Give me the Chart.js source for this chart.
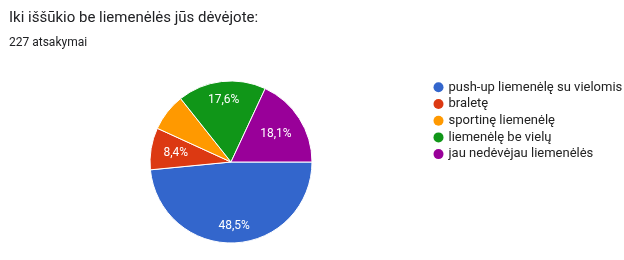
<!DOCTYPE html>
<html>
<head>
<meta charset="utf-8">
<script src="https://cdn.jsdelivr.net/npm/chart.js@4"></script>
<style>
  html, body { margin: 0; padding: 0; background: #fff; }
  #wrap { position: relative; width: 624px; height: 260px; overflow: hidden; }
  #title { position: absolute; left: 9px; top: 8px; font: 15px Roboto, sans-serif; color: #202124; white-space: nowrap; }
  #sub { position: absolute; left: 9px; top: 35px; font: 12px Roboto, sans-serif; color: #202124; white-space: nowrap; }
  canvas { position: absolute; left: 0; top: 0; }
</style>
</head>
<body>
<div id="wrap">
  <canvas id="pieChart" width="624" height="260"></canvas>
  <div id="title">Iki iššūkio be liemenėlės jūs dėvėjote:</div>
  <div id="sub">227 atsakymai</div>
</div>
<script>
// Atsakymai (227 iš viso)
const categories = ['push-up liemenėlę su vielomis', 'braletę', 'sportinę liemenėlę', 'liemenėlę be vielų', 'jau nedėvėjau liemenėlės'];
const counts = [110, 19, 17, 40, 41];
const colors = ['#3366cc', '#dc3912', '#ff9900', '#109618', '#990099'];

const total = counts.reduce((a, b) => a + b, 0);

// procentų užrašai ant griežinių + legenda dešinėje
const pieExtras = {
    id: 'pieExtras',
    afterDraw(chart) {
        const ctx = chart.ctx;
        const arcs = chart.getDatasetMeta(0).data;
        ctx.save();
        ctx.font = '12px Roboto, sans-serif';
        ctx.textAlign = 'center';
        ctx.textBaseline = 'middle';
        ctx.fillStyle = '#fff';
        arcs.forEach((arc, i) => {
            const pct = counts[i] / total * 100;
            if (pct < 8) return;
            const txt = pct.toFixed(1).replace('.', ',') + '%';
            const mid = (arc.startAngle + arc.endAngle) / 2;
            const w = ctx.measureText(txt).width;
            const c = Math.cos(mid), s = Math.sin(mid);
            const r = arc.outerRadius * 0.85 - (Math.abs(c) * w / 2 + Math.abs(s) * 4.5);
            ctx.fillText(txt, arc.x + c * r, arc.y + s * r + 0.5);
        });

        // legenda
        ctx.textAlign = 'left';
        ctx.font = '13px Roboto, sans-serif';
        categories.forEach((label, i) => {
            const y = 87.3 + i * 16.7;
            ctx.beginPath();
            ctx.arc(438.5, y, 5, 0, Math.PI * 2);
            ctx.fillStyle = colors[i];
            ctx.fill();
            ctx.fillStyle = '#222';
            ctx.fillText(label, 448.5, y);
        });
        ctx.restore();
    }
};

new Chart(document.getElementById('pieChart'), {
    type: 'pie',
    data: {
        labels: categories,
        datasets: [{
            data: counts,
            backgroundColor: colors,
            borderColor: '#fff',
            borderWidth: 1,
            hoverOffset: 0
        }]
    },
    options: {
        responsive: false,
        animation: false,
        rotation: 90,
        layout: {
            padding: { left: 149.5, right: 311.5, top: 80.5, bottom: 16.5 }
        },
        plugins: {
            legend: { display: false },
            tooltip: { enabled: false }
        }
    },
    plugins: [pieExtras]
});
</script>
</body>
</html>
